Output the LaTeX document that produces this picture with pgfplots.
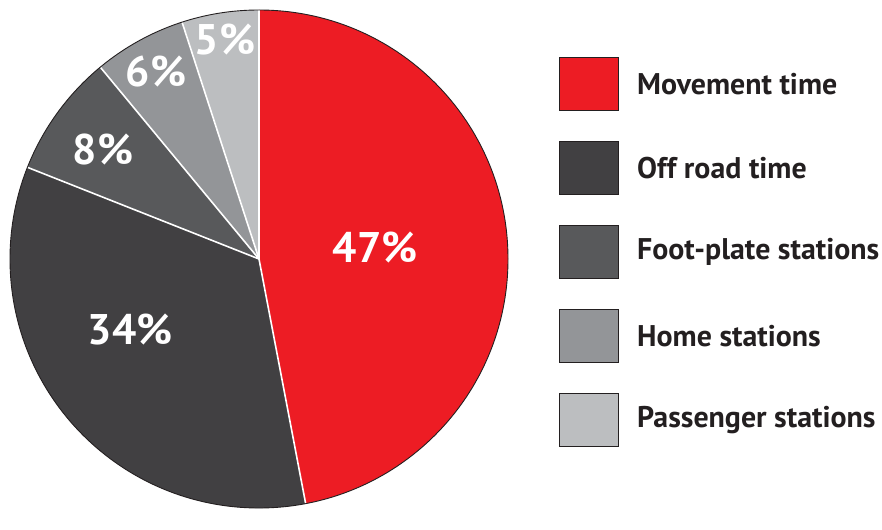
\documentclass[border=0pt]{standalone}
\usepackage{pgfplots}
\pgfplotsset{compat=1.18}
\usepackage{fontspec}
\setmainfont{PT Sans}
\definecolor{cRed}{HTML}{ED1C24}
\definecolor{cDark}{HTML}{414042}
\definecolor{cMid}{HTML}{58595B}
\definecolor{cGray}{HTML}{939598}
\definecolor{cLight}{HTML}{BCBEC0}
\definecolor{cText}{HTML}{231F20}
\begin{document}
\begin{tikzpicture}
\begin{axis}[
  width=882bp, height=511bp, scale only axis,
  xmin=0, xmax=882, ymin=0, ymax=511,
  hide axis, clip=false,
]
\pgfplotsextra{
  \path (axis cs:0,0) rectangle (axis cs:882,511);
  \def\cum{0}
  \foreach \v/\c in {47/cRed,34/cDark,8/cMid,6/cGray,5/cLight}{
    \pgfmathsetmacro\sa{90-3.6*\cum}
    \pgfmathsetmacro\ea{90-3.6*(\cum+\v)}
    \fill[\c] (axis cs:259,252) -- ([shift={(\sa:249bp)}]axis cs:259,252) arc[start angle=\sa, end angle=\ea, radius=249bp] -- cycle;
    \pgfmathsetmacro\newcum{\cum+\v}
    \global\let\cum\newcum
  }
  \def\cum{0}
  \foreach \v in {47,34,8,6,5}{
    \pgfmathsetmacro\sa{90-3.6*\cum}
    \draw[white, line width=1.6bp] (axis cs:259,252) -- ([shift={(\sa:249bp)}]axis cs:259,252);
    \pgfmathsetmacro\newcum{\cum+\v}
    \global\let\cum\newcum
  }
  \draw[cText, line width=0.9bp] (axis cs:259,252) circle[radius=249bp];
  \foreach \x/\y/\t in {375/263/47,130/181/34,103/361/8,156/439/6,225/471/5}{
    \node[white, font=\fontsize{43}{43}\selectfont\bfseries] at (axis cs:\x,\y) {\t\%};
  }
  \foreach \i/\c/\t in {0/cRed/Movement time,1/cDark/Off road time,2/cMid/Foot-plate stations,3/cGray/Home stations,4/cLight/Passenger stations}{
    \pgfmathsetmacro\yc{427-84*\i}
    \filldraw[fill=\c, draw=cText, line width=0.8bp] (axis cs:559,\yc-26.5) rectangle (axis cs:618,\yc+26.5);
    \node[anchor=west, text=cText, font=\fontsize{30}{30}\selectfont\bfseries, inner sep=0pt] at (axis cs:637,\yc) {\t};
  }
}
\end{axis}
\end{tikzpicture}
\end{document}
